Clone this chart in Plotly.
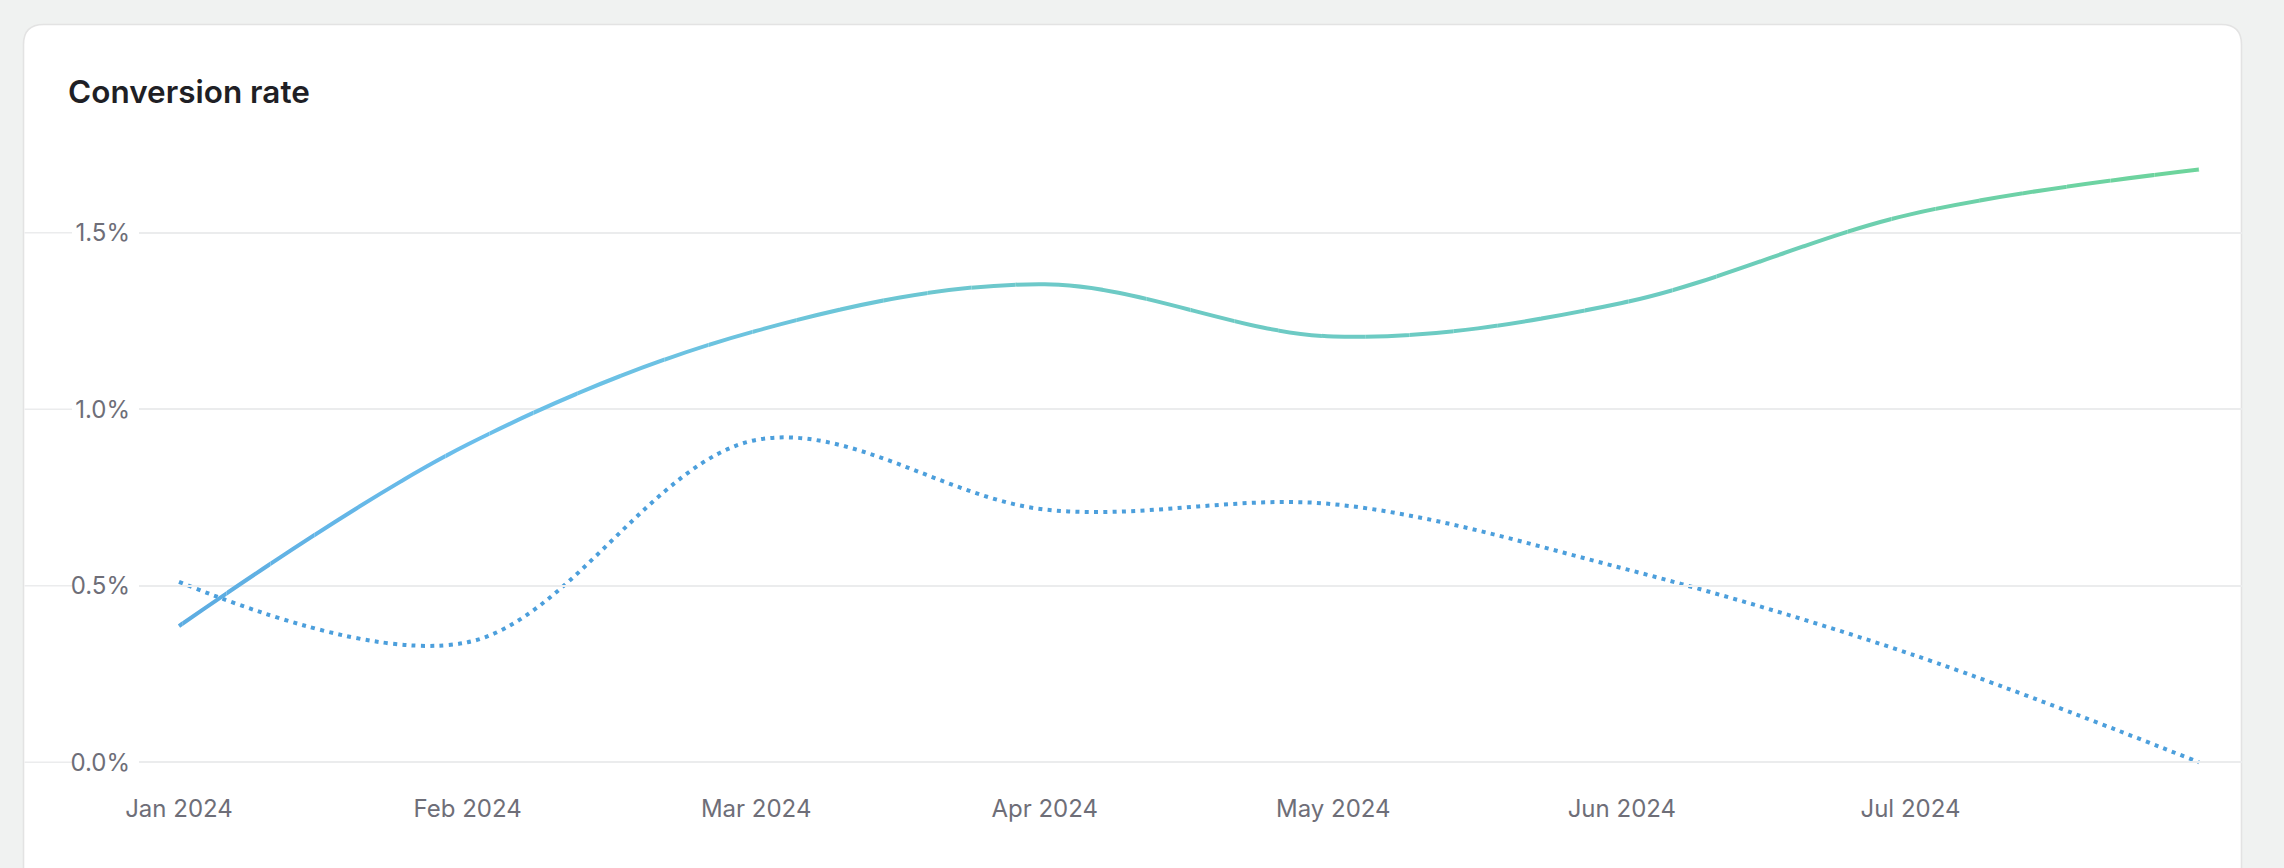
import plotly.graph_objects as go

# ---------------- data ----------------
months = ["Jan 2024", "Feb 2024", "Mar 2024", "Apr 2024",
          "May 2024", "Jun 2024", "Jul 2024", "Aug 2024"]
x_tick_labels = ["Jan 2024", "Feb 2024", "Mar 2024", "Apr 2024",
                 "May 2024", "Jun 2024", "Jul 2024"]
conversion_current = [0.386, 0.900, 1.222, 1.354, 1.206, 1.301, 1.552, 1.679]
conversion_previous = [0.511, 0.340, 0.913, 0.716, 0.731, 0.550, 0.307, 0.0]
y_tick_values = [0.0, 0.5, 1.0, 1.5]
y_tick_labels = ["0.0%", "0.5%", "1.0%", "1.5%"]

# ---------------- geometry (pixels) ----------------
W, H = 2284, 868
PL, PR = 139, 2242          # plot area left / right
PT, PB = 140, 770           # plot area top / bottom
X_FIRST_PX, X_LAST_PX = 179, 2199   # where first / last category sit
Y0_PX, Y15_PX = 762.3, 232.7        # pixel rows of 0.0 and 1.5
CARD_L, CARD_T, CARD_R, CARD_B, CARD_RAD = 23.5, 24.5, 2241.5, 920, 20

n = len(months)
unit_px = (X_LAST_PX - X_FIRST_PX) / (n - 1)
x_range = [(PL - X_FIRST_PX) / unit_px, (n - 1) + (PR - X_LAST_PX) / unit_px]
ppu = (Y0_PX - Y15_PX) / 1.5
y_range = [-(PB - Y0_PX) / ppu, (Y0_PX - PT) / ppu]


def px_x(p):
    return (p - PL) / (PR - PL)


def px_y(p):
    return (PB - p) / (PB - PT)


# ---------------- colours ----------------
BG = "#f0f2f1"
CARD_BORDER = "#e3e3e3"
GRID = "#ebeced"
TICK_COL = "#6e6e78"
TITLE_COL = "#1f1f25"
DOT_COL = "#4c9fdc"
GRAD_STOPS = [(0.00, (0x5c, 0xab, 0xe1)),
              (0.14, (0x6b, 0xbe, 0xeb)),
              (0.30, (0x6c, 0xc4, 0xdc)),
              (0.45, (0x6d, 0xca, 0xc5)),
              (0.72, (0x6c, 0xcb, 0xc2)),
              (0.85, (0x6d, 0xd0, 0xad)),
              (1.00, (0x6d, 0xd4, 0x9b))]


def grad_color(f):
    f = max(0.0, min(1.0, f))
    for (a, ca), (b, cb) in zip(GRAD_STOPS[:-1], GRAD_STOPS[1:]):
        if a <= f <= b:
            t = (f - a) / (b - a) if b > a else 0
            c = [round(ca[i] + (cb[i] - ca[i]) * t) for i in range(3)]
            return "rgb(%d,%d,%d)" % tuple(c)
    return "rgb(%d,%d,%d)" % GRAD_STOPS[-1][1]


FONT = "Inter, 'Noto Sans', sans-serif"

fig = go.Figure()

# dotted (previous period) series on the main axes
fig.add_trace(go.Scatter(
    x=months, y=conversion_previous, mode="lines",
    line=dict(color=DOT_COL, width=4, dash="4px,5.3px", shape="spline", smoothing=1),
    hoverinfo="skip", showlegend=False, xaxis="x", yaxis="y"))

# solid series drawn in thin vertical strips so it can carry a horizontal gradient
N_STRIPS = 48
layout_axes = {}
span = x_range[1] - x_range[0]
for k in range(N_STRIPS):
    d0, d1 = k / N_STRIPS, (k + 1) / N_STRIPS
    centre_px = PL + (d0 + d1) / 2 * (PR - PL)
    col = grad_color((centre_px - X_FIRST_PX) / (X_LAST_PX - X_FIRST_PX))
    ax_name = "x%d" % (k + 2)
    layout_axes["xaxis%d" % (k + 2)] = dict(
        domain=[d0, d1], range=[x_range[0] + d0 * span, x_range[0] + d1 * span],
        visible=False, anchor="y", type="category", categoryorder="array",
        categoryarray=months, fixedrange=True)
    fig.add_trace(go.Scatter(
        x=months, y=conversion_current, mode="lines",
        line=dict(color=col, width=4, shape="spline", smoothing=1),
        hoverinfo="skip", showlegend=False, xaxis=ax_name, yaxis="y"))

shapes = []
# card
r_x = CARD_RAD / (PR - PL)
r_y = CARD_RAD / (PB - PT)
xl, xr = px_x(CARD_L), px_x(CARD_R)
yt, yb = px_y(CARD_T), px_y(CARD_B)
path = (f"M {xl} {yb} L {xl} {yt - r_y} Q {xl} {yt} {xl + r_x} {yt} "
        f"L {xr - r_x} {yt} Q {xr} {yt} {xr} {yt - r_y} L {xr} {yb} Z")
shapes.append(dict(type="path", path=path, xref="paper", yref="paper",
                   fillcolor="white", line=dict(color=CARD_BORDER, width=1.6),
                   layer="below"))
# left-hand pieces of the grid lines (before the tick labels)
for v in y_tick_values:
    shapes.append(dict(type="line", xref="paper", yref="y",
                       x0=px_x(CARD_L + 1), x1=px_x(72), y0=v, y1=v,
                       line=dict(color=GRID, width=1.5), layer="below"))

fig.update_layout(
    width=W, height=H,
    margin=dict(l=PL, r=W - PR, t=PT, b=H - PB, pad=0),
    paper_bgcolor=BG, plot_bgcolor="rgba(0,0,0,0)",
    font=dict(family=FONT, color=TICK_COL, size=24),
    showlegend=False, hovermode=False,
    xaxis=dict(domain=[0, 1], range=x_range, type="category",
               categoryorder="array", categoryarray=months,
               tickmode="array", tickvals=x_tick_labels, ticktext=x_tick_labels,
               showgrid=False, zeroline=False, showline=False, ticks="",
               tickfont=dict(family=FONT, size=24, color=TICK_COL),
               ticklabelstandoff=22, fixedrange=True),
    yaxis=dict(range=y_range, tickmode="array", tickvals=y_tick_values,
               ticktext=y_tick_labels, showgrid=True, gridcolor=GRID, gridwidth=1.5,
               zeroline=False, showline=False, ticks="",
               tickfont=dict(family=FONT, size=24, color=TICK_COL),
               ticklabelstandoff=8, fixedrange=True),
    shapes=shapes,
    annotations=[dict(text="Conversion rate", xref="paper", yref="paper",
                      x=px_x(66), y=px_y(91), xanchor="left", yanchor="middle",
                      showarrow=False,
                      font=dict(family=FONT, size=31.5, color=TITLE_COL, weight=600))],
    **layout_axes,
)

fig.write_html("out.html", config={"displayModeBar": False},
               post_script="document.body.style.margin='0';document.body.style.overflow='hidden';")
